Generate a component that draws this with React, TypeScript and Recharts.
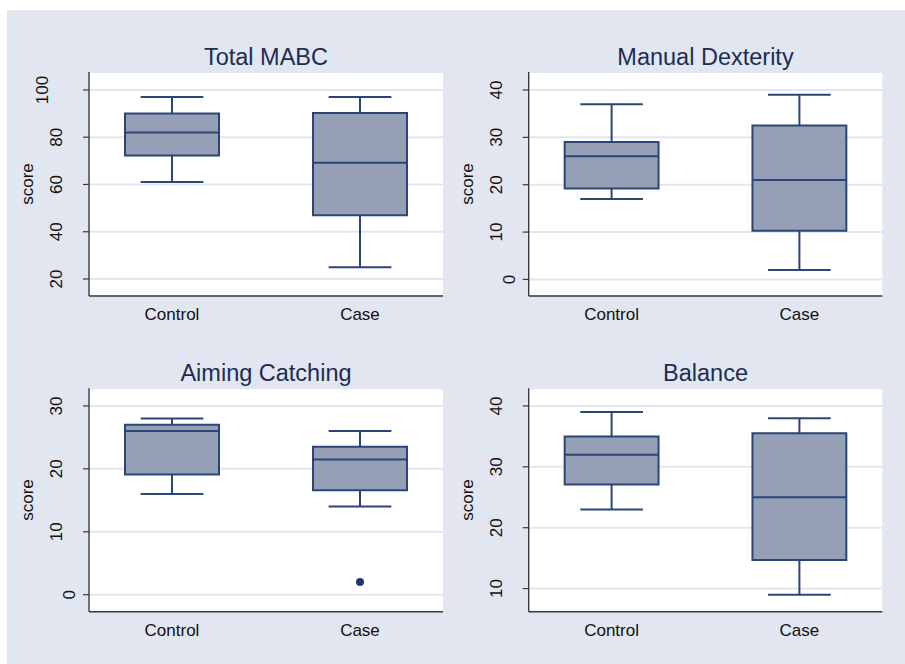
import React from 'react';
import {
  ComposedChart,
  XAxis,
  YAxis,
  CartesianGrid,
  ReferenceArea,
  ReferenceLine,
  Scatter,
} from 'recharts';

// ---------- data ----------
const categories = ['Control', 'Case'];
// each row: [min, q1, median, q3, max]
const totalMabcStats = [
  [61, 72.3, 82, 90, 97],
  [25, 47, 69.2, 90.3, 97],
];
const manualDexterityStats = [
  [17, 19.2, 26, 29, 37],
  [2, 10.3, 21, 32.5, 39],
];
const aimingCatchingStats = [
  [16, 19.1, 26, 27, 28],
  [14, 16.6, 21.5, 23.5, 26],
];
const balanceStats = [
  [23, 27.1, 32, 35, 39],
  [9, 14.7, 25, 35.5, 38],
];
const aimingCatchingOutliers = [{ group: 2, value: 2 }];

const totalMabcTicks = [20, 40, 60, 80, 100];
const manualDexterityTicks = [0, 10, 20, 30, 40];
const aimingCatchingTicks = [0, 10, 20, 30];
const balanceTicks = [10, 20, 30, 40];

// ---------- styles ----------
const BG = '#e1e6f0';
const BOX_FILL = '#95a0b6';
const BOX_STROKE = '#2b4676';
const TITLE_COLOR = '#1c2d55';
const AXIS_COLOR = '#3a3a3a';
const GRID_COLOR = '#e1e6f0';
const FONT = '"Liberation Sans", Arial, Helvetica, sans-serif';
const BOX_HALF = 0.25;
const CAP_HALF = 0.1667;
const X_DOMAIN: [number, number] = [0.5585, 2.4415];

const XTick = (props: any) => {
  const { x, y, payload } = props;
  const label = categories[payload.value - 1] ?? '';
  return (
    <text x={x} y={y + 24} textAnchor="middle" fontSize={17} fill="#111" fontFamily={FONT}>
      {label}
    </text>
  );
};

const YTick = (props: any) => {
  const { x, y, payload } = props;
  const s = String(payload.value);
  const bx = x - 21 - (s.length - 2) * 13.5;
  return (
    <text
      x={bx}
      y={y}
      transform={`rotate(-90, ${bx}, ${y})`}
      textAnchor="middle"
      fontSize={17}
      fill="#111"
      fontFamily={FONT}
    >
      {s}
    </text>
  );
};

const ScoreLabel = (props: any) => {
  const vb = props.viewBox || {};
  const bx = vb.x + vb.width - 55.7;
  const cy = vb.y + vb.height / 2;
  return (
    <text
      x={bx}
      y={cy}
      transform={`rotate(-90, ${bx}, ${cy})`}
      textAnchor="middle"
      fontSize={17}
      fill="#111"
      fontFamily={FONT}
    >
      score
    </text>
  );
};

type PanelProps = {
  title: string;
  stats: number[][];
  ticks: number[];
  domain: [number, number];
  outliers?: { group: number; value: number }[];
  left: number;
  top: number;
  width: number;
  height: number;
  plotLeft: number;
  plotRight: number;
  plotTop: number;
  plotBottom: number;
};

const Panel = (p: PanelProps) => {
  const data = p.stats.map((s, i) => ({ x: i + 1, min: s[0], q1: s[1], med: s[2], q3: s[3], max: s[4] }));
  const outlierData = (p.outliers || []).map((o) => ({ x: o.group, y: o.value }));
  const yAxisWidth = p.plotLeft - p.left;
  const xAxisHeight = p.top + p.height - p.plotBottom;
  const plotWidth = p.plotRight - p.plotLeft;
  return (
    <div style={{ position: 'absolute', left: p.left, top: p.top, width: p.width, height: p.height }}>
      <svg
        width={p.width}
        height={p.plotTop - p.top}
        style={{ position: 'absolute', left: 0, top: 0, overflow: 'visible' }}
      >
        <text
          x={yAxisWidth + plotWidth / 2}
          y={p.plotTop - p.top - 7}
          textAnchor="middle"
          fontSize={23.5}
          fill={TITLE_COLOR}
          fontFamily={FONT}
        >
          {p.title}
        </text>
      </svg>
      <div style={{ position: 'absolute', left: 0, top: 0 }}>
        <ComposedChart
          width={p.width}
          height={p.height}
          data={data}
          margin={{ top: p.plotTop - p.top, right: p.left + p.width - p.plotRight, bottom: 0, left: 0 }}
        >
          <CartesianGrid vertical={false} stroke={GRID_COLOR} strokeWidth={2} fill="#ffffff" fillOpacity={1} />
          <XAxis
            dataKey="x"
            type="number"
            domain={X_DOMAIN}
            ticks={[1, 2]}
            allowDataOverflow
            height={xAxisHeight}
            tickLine={false}
            tickSize={0}
            tickMargin={0}
            axisLine={{ stroke: AXIS_COLOR, strokeWidth: 1.4 }}
            tick={<XTick />}
            interval={0}
          />
          <YAxis
            type="number"
            domain={p.domain}
            ticks={p.ticks}
            allowDataOverflow
            width={yAxisWidth}
            tickSize={6}
            tickMargin={0}
            tickLine={{ stroke: AXIS_COLOR, strokeWidth: 1.2 }}
            axisLine={{ stroke: AXIS_COLOR, strokeWidth: 1.4 }}
            tick={<YTick />}
            interval={0}
            label={<ScoreLabel />}
          />
          {data.map((d) => (
            <ReferenceLine
              key={`wu${d.x}`}
              segment={[{ x: d.x, y: d.q3 }, { x: d.x, y: d.max }]}
              stroke={BOX_STROKE}
              strokeWidth={2}
            />
          ))}
          {data.map((d) => (
            <ReferenceLine
              key={`wl${d.x}`}
              segment={[{ x: d.x, y: d.q1 }, { x: d.x, y: d.min }]}
              stroke={BOX_STROKE}
              strokeWidth={2}
            />
          ))}
          {data.map((d) => (
            <ReferenceLine
              key={`cu${d.x}`}
              segment={[{ x: d.x - CAP_HALF, y: d.max }, { x: d.x + CAP_HALF, y: d.max }]}
              stroke={BOX_STROKE}
              strokeWidth={2}
            />
          ))}
          {data.map((d) => (
            <ReferenceLine
              key={`cl${d.x}`}
              segment={[{ x: d.x - CAP_HALF, y: d.min }, { x: d.x + CAP_HALF, y: d.min }]}
              stroke={BOX_STROKE}
              strokeWidth={2}
            />
          ))}
          {data.map((d) => (
            <ReferenceArea
              key={`b${d.x}`}
              x1={d.x - BOX_HALF}
              x2={d.x + BOX_HALF}
              y1={d.q1}
              y2={d.q3}
              fill={BOX_FILL}
              fillOpacity={1}
              stroke={BOX_STROKE}
              strokeWidth={2}
            />
          ))}
          {data.map((d) => (
            <ReferenceLine
              key={`m${d.x}`}
              segment={[{ x: d.x - BOX_HALF, y: d.med }, { x: d.x + BOX_HALF, y: d.med }]}
              stroke={BOX_STROKE}
              strokeWidth={2}
            />
          ))}
          <Scatter
            data={outlierData}
            dataKey="y"
            isAnimationActive={false}
            fill={BOX_STROKE}
            shape={(s: any) => <circle cx={s.cx} cy={s.cy} r={4} fill="#1f3a6e" />}
          />
        </ComposedChart>
      </div>
    </div>
  );
};

export default function App() {
  return (
    <div style={{ position: 'absolute', left: 0, top: 0, width: 905, height: 664, background: '#ffffff', fontFamily: FONT }}>
      <div style={{ position: 'absolute', left: 7, top: 10, width: 898, height: 654, background: BG }} />
      <Panel
        title="Total MABC"
        stats={totalMabcStats}
        ticks={totalMabcTicks}
        domain={[12.8, 107.6]}
        left={0}
        top={0}
        width={452}
        height={340}
        plotLeft={89}
        plotRight={443}
        plotTop={72}
        plotBottom={296}
      />
      <Panel
        title="Manual Dexterity"
        stats={manualDexterityStats}
        ticks={manualDexterityTicks}
        domain={[-3.5, 43.8]}
        left={452}
        top={0}
        width={453}
        height={340}
        plotLeft={528.7}
        plotRight={882.3}
        plotTop={72}
        plotBottom={296}
      />
      <Panel
        title="Aiming Catching"
        stats={aimingCatchingStats}
        ticks={aimingCatchingTicks}
        domain={[-2.7, 32.8]}
        outliers={aimingCatchingOutliers}
        left={0}
        top={340}
        width={452}
        height={324}
        plotLeft={89}
        plotRight={443}
        plotTop={388.3}
        plotBottom={611.7}
      />
      <Panel
        title="Balance"
        stats={balanceStats}
        ticks={balanceTicks}
        domain={[6.2, 42.9]}
        left={452}
        top={340}
        width={453}
        height={324}
        plotLeft={528.7}
        plotRight={882.3}
        plotTop={388.3}
        plotBottom={611.7}
      />
    </div>
  );
}
